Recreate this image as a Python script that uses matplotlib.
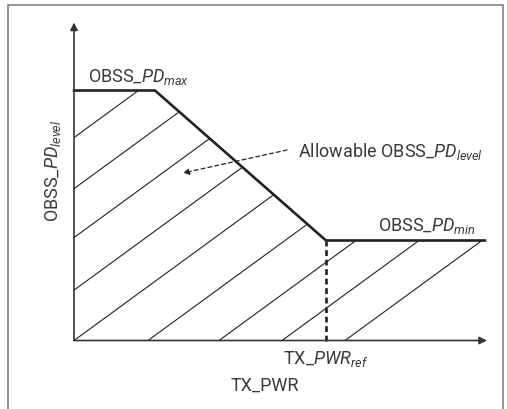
import matplotlib
matplotlib.use('Agg')
import matplotlib.pyplot as plt
from matplotlib.patches import Polygon, Rectangle

# narrow-ish face for all text, italic math parts in the same family
plt.rcParams['font.family'] = ['Roboto', 'DejaVu Sans']
plt.rcParams['mathtext.fontset'] = 'custom'
plt.rcParams['mathtext.rm'] = 'Roboto'
plt.rcParams['mathtext.it'] = 'Roboto:italic'

# curve values (arbitrary units)
pd_max = 25.0
pd_min = 10.0
tx_knee = 8.1
tx_pwr_ref = 25.2
tx_end = 41.1
x_axis_end = 41.3
y_axis_end = 31.8

# hatch lines: x where each line crosses the TX_PWR axis, and their slope
hatch_starts = [-27.8, -20.8, -14.1, -6.9, 0.0, 7.4, 14.5, 20.8, 27.1]
hatch_slope = 0.73

ink = '#222222'
txt = '#3a3a3a'

fig = plt.figure(figsize=(5.07, 4.09), dpi=100)
ax = fig.add_axes([0, 0, 1, 1])
ax.set_xlim(-7.4, 43.3)
ax.set_ylim(-6.85, 34.05)
ax.axis('off')

# outer frame (bottom edge runs off the picture)
fig.patches.append(Rectangle((8 / 507, -0.1), 495 / 507, 1.1 - 5 / 409,
                             transform=fig.transFigure, fill=False,
                             edgecolor='#777777', lw=1.1))

# hatched region under the curve
region_x = [0, 0, tx_knee, tx_pwr_ref, tx_end, tx_end]
region_y = [0, pd_max, pd_max, pd_min, pd_min, 0]
region = Polygon(list(zip(region_x, region_y)), closed=True, fill=False,
                 edgecolor='none')
ax.add_patch(region)
for x0 in hatch_starts:
    ln, = ax.plot([x0, x0 + 60], [0, 60 * hatch_slope], color=ink, lw=0.8)
    ln.set_clip_path(region)

# axes with arrow heads
arrow = dict(arrowstyle='-|>', color='#333333', lw=1.2, mutation_scale=11,
             shrinkA=0, shrinkB=0)
ax.annotate('', xy=(0, y_axis_end), xytext=(0, 0), arrowprops=arrow)
ax.annotate('', xy=(x_axis_end, 0), xytext=(0, 0), arrowprops=arrow)

# the OBSS_PD curve
ax.plot([0, tx_knee, tx_pwr_ref, tx_end], [pd_max, pd_max, pd_min, pd_min],
        color=ink, lw=1.9, solid_joinstyle='miter')
ax.plot([tx_pwr_ref, tx_pwr_ref], [0, pd_min], color=ink, lw=1.9,
        linestyle=(0, (2.2, 1.4)))

fs = 13
ax.text(1.4, pd_max + 0.85, 'OBSS_$PD_{max}$', fontsize=fs, color=txt,
        ha='left', va='baseline')
ax.text(40.1, pd_min + 0.9, 'OBSS_$PD_{min}$', fontsize=fs, color=txt,
        ha='right', va='baseline')
ax.text(22.4, 18.35, 'Allowable OBSS_$PD_{level}$', fontsize=fs, color=txt,
        ha='left', va='baseline')
ax.text(tx_pwr_ref, -2.35, 'TX_$PWR_{ref}$', fontsize=fs, color=txt,
        ha='center', va='baseline')
ax.text(19.1, -5.05, 'TX_PWR', fontsize=fs, color=txt,
        ha='center', va='baseline')
ax.text(-1.6, 17.0, 'OBSS_$PD_{level}$', fontsize=fs, color=txt,
        ha='center', va='baseline', rotation=90, rotation_mode='anchor')

# dashed pointer into the allowed region
ax.annotate('', xy=(10.9, 16.75), xytext=(21.3, 19.05),
            arrowprops=dict(arrowstyle='-|>', color=ink, lw=0.9,
                            linestyle=(0, (3.2, 2.4)), mutation_scale=9,
                            shrinkA=0, shrinkB=0))

fig.savefig('out.png', dpi=100)
